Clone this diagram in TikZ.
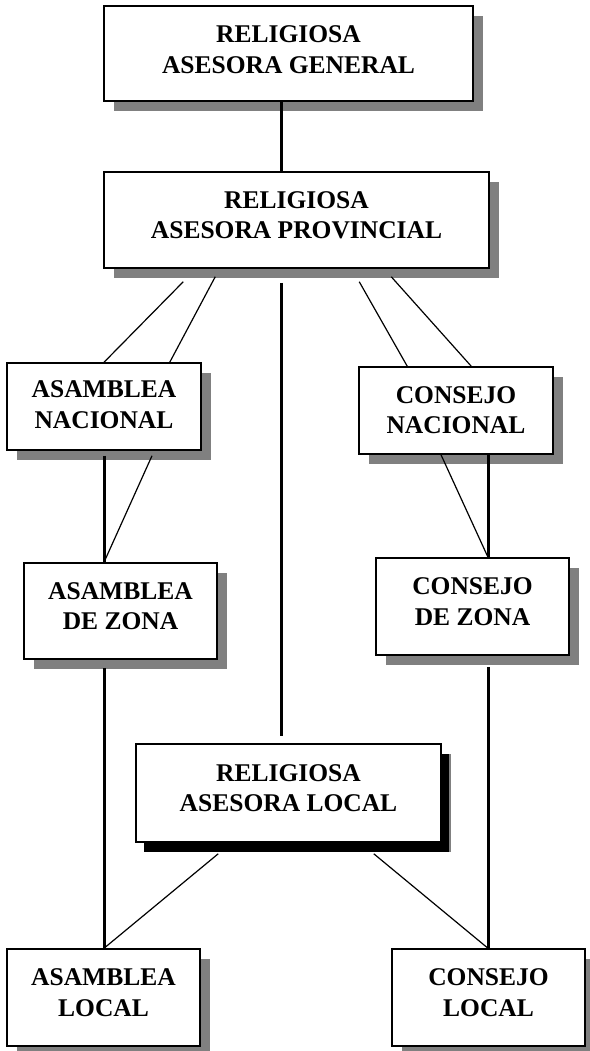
\documentclass[tikz,border=0pt]{standalone}
\usepackage{fontspec}
\setmainfont{Liberation Serif}
\usetikzlibrary{shadows}
\definecolor{shgray}{HTML}{808080}
\newcommand\twolines[3][10pt]{#2\\#3\rule[-#1]{0pt}{#1}}
\begin{document}
\begin{tikzpicture}[x=1pt,y=-1pt,
  orgbox/.style={draw,line width=1.5pt,fill=white,inner sep=0pt,align=center,
    font=\fontsize{25.5}{30.5}\selectfont\bfseries,
    drop shadow={shadow xshift=9.5pt,shadow yshift=-10pt,fill=shgray,opacity=1}},
  blackshadow/.style={drop shadow={shadow xshift=8pt,shadow yshift=-10pt,fill=black,opacity=1}},
  thickline/.style={line width=3pt},
  thinline/.style={line width=1.2pt}]
\useasboundingbox (0,0) rectangle (589,1051);

\node[orgbox,minimum width=369pt,minimum height=95pt] (gen) at (288.5,53.5) {\twolines[8pt]{RELIGIOSA}{ASESORA GENERAL}};
\node[orgbox,minimum width=385pt,minimum height=96pt] (prov) at (296.5,220) {\twolines{RELIGIOSA}{ASESORA PROVINCIAL}};
\node[orgbox,minimum width=194pt,minimum height=87pt] (an) at (104,406.5) {\twolines[4pt]{ASAMBLEA}{NACIONAL}};
\node[orgbox,minimum width=194pt,minimum height=87pt] (cn) at (456,410.5) {\twolines[1pt]{CONSEJO}{NACIONAL}};
\node[orgbox,minimum width=193pt,minimum height=96pt] (az) at (120.5,611) {\twolines{ASAMBLEA}{DE ZONA}};
\node[orgbox,minimum width=193pt,minimum height=97pt] (cz) at (472.5,606.5) {\twolines{CONSEJO}{DE ZONA}};
\node[orgbox,blackshadow,minimum width=305pt,minimum height=98pt] (loc) at (288.5,793) {\twolines{RELIGIOSA}{ASESORA LOCAL}};
\node[orgbox,minimum width=193pt,minimum height=97pt] (al) at (103.5,997.5) {\twolines{ASAMBLEA}{LOCAL}};
\node[orgbox,minimum width=193pt,minimum height=97pt] (cl) at (488.5,997.5) {\twolines{CONSEJO}{LOCAL}};

% general -> provincial
\draw[thickline] ([xshift=-7.5pt]gen.south) -- ([xshift=-7.5pt]gen.south |- prov.north);
% provincial -> local
\draw[thickline] ([xshift=-15.5pt,yshift=-14pt]prov.south) -- ([xshift=-7.5pt,yshift=7pt]loc.north);
% provincial -> asamblea nacional
\draw[thinline] ([xshift=80pt,yshift=-13pt]prov.south west) -- (an.north);
\draw[thinline] ([xshift=112pt,yshift=-8pt]prov.south west) -- ([xshift=-32pt]an.north east);
% provincial -> consejo nacional
\draw[thinline] ([xshift=256pt,yshift=-13pt]prov.south west) -- ([xshift=49pt]cn.north west);
\draw[thinline] ([xshift=288pt,yshift=-8pt]prov.south west) -- ([xshift=113pt]cn.north west);
% asamblea nacional -> asamblea de zona
\coordinate (azin) at (an.south |- az.north);
\draw[thickline] ([yshift=-5pt]an.south) -- (azin);
\draw[thinline] ([xshift=48pt,yshift=-5pt]an.south) -- (azin);
% consejo nacional -> consejo de zona
\coordinate (czin) at ([xshift=32pt]cn.south |- cz.north);
\draw[thickline] ([xshift=32pt]cn.south) -- (czin);
\draw[thinline] ([xshift=-15pt]cn.south) -- (czin);
% zona -> local
\draw[thickline] ([xshift=-16.5pt,yshift=-8pt]az.south) -- ([xshift=-16.5pt]az.south |- al.north);
\draw[thickline] ([xshift=15.5pt,yshift=-11pt]cz.south) -- ([xshift=15.5pt]cz.south |- cl.north);
% asesora local -> locales
\draw[thinline] ([xshift=83pt,yshift=-11pt]loc.south west) -- ([xshift=0.5pt]al.north);
\draw[thinline] ([xshift=-68pt,yshift=-11pt]loc.south east) -- ([xshift=-0.5pt]cl.north);
\end{tikzpicture}
\end{document}
